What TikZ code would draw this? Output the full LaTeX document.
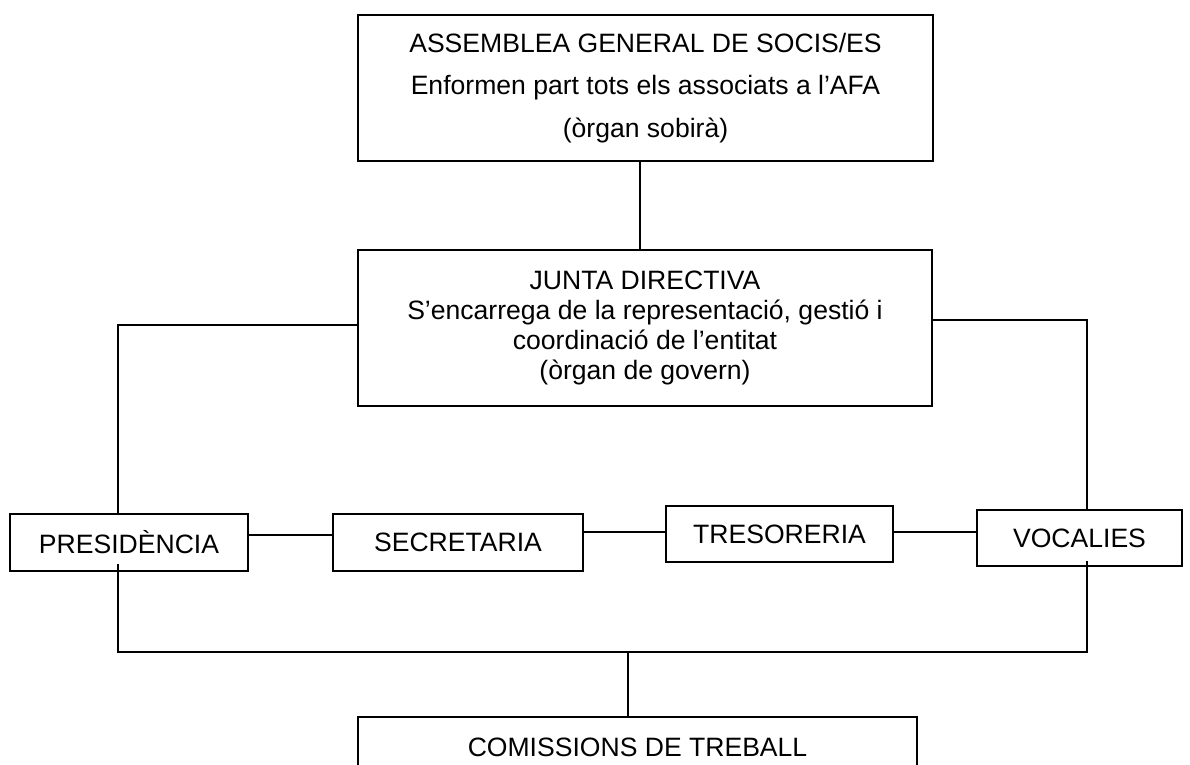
\documentclass[tikz,border=0pt]{standalone}
\usepackage{fontspec}
\setmainfont{Liberation Sans}
\usetikzlibrary{calc,positioning}
\tikzset{
  unit/.style={draw, rectangle, line width=0.9pt, inner sep=2pt, align=center,
    font=\fontsize{12.75}{14.4}\selectfont},
  link/.style={line width=0.9pt}
}

\begin{document}
\begin{tikzpicture}[x=0.48pt, y=-0.48pt]

  \useasboundingbox (0,0) rectangle (1190,765);
  \clip (0,0) rectangle (1190,765);

  \node [unit, minimum width=276pt, minimum height=70pt, font=\fontsize{12.75}{20.4}\selectfont] at(645.5,88) (asm) {ASSEMBLEA GENERAL DE SOCIS/ES\\Enformen part tots els associats a l’AFA\\(òrgan sobirà)};

  \node [unit, minimum width=275.5pt, minimum height=74.9pt] at(645,328) (jd) {JUNTA DIRECTIVA\\S’encarrega de la representació, gestió i\\coordinació de l’entitat\\(òrgan de govern)};

  \node [unit, minimum width=114.2pt, minimum height=27.4pt] at(129,542.5) (pres) {PRESIDÈNCIA};
  \node [unit, minimum width=120pt, minimum height=27.4pt] at(458,542.5) (sec) {SECRETARIA};
  \node [unit, minimum width=109pt, minimum height=26.9pt] at(779.5,534) (tres) {TRESORERIA};
  \node [unit, minimum width=98.4pt, minimum height=26.9pt] at(1079.5,538) (voc) {VOCALIES};

  \node [unit, minimum width=268pt, minimum height=28.8pt] at(637.5,747) (comm) {COMISSIONS DE TREBALL};

  \coordinate (bus) at (628,652);

  \draw [link] ([xshift=-2.6pt]asm.south) -- ([xshift=-2.6pt]asm.south |- jd.north);
  \draw [link] ([yshift=1.5pt]jd.west) -| ([xshift=-5.3pt]pres.north);
  \draw [link] ([yshift=3.8pt]jd.east) -| ([xshift=3.6pt]voc.north);

  \draw [link] ([yshift=3.6pt]pres.east) -- ([yshift=3.6pt]sec.west);
  \draw [link] ([yshift=1pt]tres.west -| sec.east) -- ([yshift=1pt]tres.west);
  \draw [link] ([yshift=1pt]tres.east) -- ([yshift=1pt]tres.east -| voc.west);

  \draw [link] ([xshift=-5.3pt,yshift=4pt]pres.south) |- (bus) -| ([xshift=3.6pt,yshift=3pt]voc.south);
  \draw [link] (bus) -- (bus |- comm.north);

\end{tikzpicture}
\end{document}
